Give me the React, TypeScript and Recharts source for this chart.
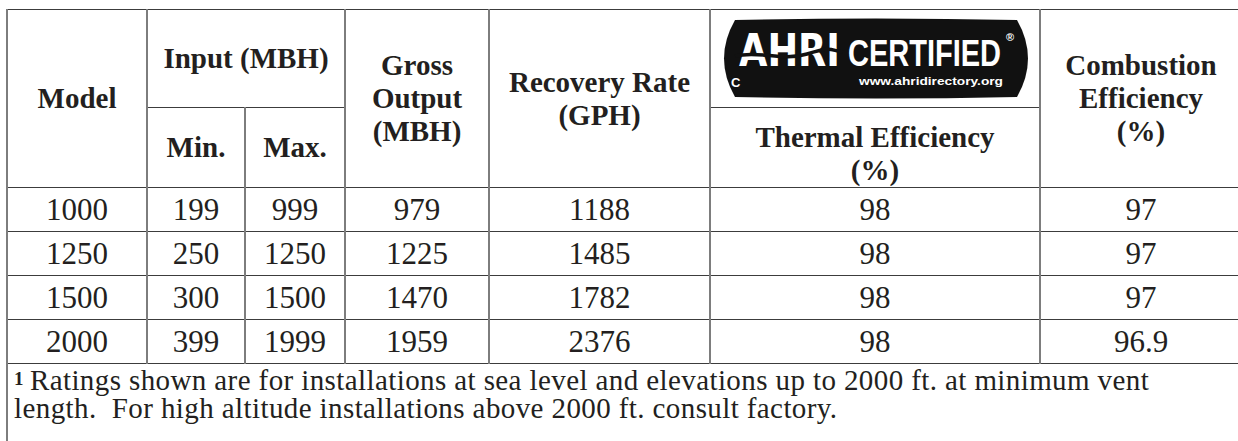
import React from 'react';
import { Surface } from 'recharts';

// table values
const models = ['1000', '1250', '1500', '2000'];
const inputMin = [199, 250, 300, 399];
const inputMax = [999, 1250, 1500, 1999];
const grossOutput = [979, 1225, 1470, 1959];
const recoveryRate = [1188, 1485, 1782, 2376];
const thermalEff = ['98', '98', '98', '98'];
const combustionEff = ['97', '97', '97', '96.9'];

const footnoteLines = [
  'Ratings shown are for installations at sea level and elevations up to 2000 ft. at minimum vent',
  'length.\u00a0 For high altitude installations above 2000 ft. consult factory.',
];

const colWidths = [140, 98, 100, 144, 221, 330, 202];

const VLINE = '2px solid #7d7d7d';
const HLINE = '1.5px solid #3c3c3c';
const INK = '#231f20';

const head: React.CSSProperties = {
  borderLeft: VLINE,
  borderRight: VLINE,
  borderTop: HLINE,
  borderBottom: HLINE,
  fontFamily: '"Liberation Serif", serif',
  fontWeight: 700,
  fontSize: 29,
  lineHeight: '33px',
  textAlign: 'center',
  verticalAlign: 'middle',
  color: INK,
  padding: 0,
};

const cell: React.CSSProperties = {
  ...head,
  fontWeight: 400,
  fontSize: 31,
  lineHeight: '31px',
};

const AhriLogo = () => {
  const w = 330;
  const h = 97;
  const x0 = 8, x1 = 322, y0 = 10, y1 = 87;
  const mid = (y0 + y1) / 2;
  const shape = `M${x0 + 16},${y0} Q${w / 2},${y0 - 3} ${x1 - 16},${y0} Q${x1 + 6},${mid} ${x1 - 16},${y1} Q${w / 2},${y1 + 3} ${x0 + 16},${y1} Q${x0 - 6},${mid} ${x0 + 16},${y0} Z`;
  return (
    <Surface width={w} height={h} viewBox={{ x: 0, y: 0, width: w, height: h }} style={{ display: 'block' }}>
      <path d={shape} fill="#111" />
      <text
        x={28}
        y={56}
        fill="#fff"
        fontFamily='"DejaVu Sans", sans-serif'
        fontWeight={700}
        fontSize={44}
        textLength={101}
        lengthAdjust="spacingAndGlyphs"
      >
        AHRI
      </text>
      <path d="M24,46 C50,40 70,52 96,44 S118,40 132,42" stroke="#111" strokeWidth={3.5} fill="none" />
      <text
        x={137}
        y={56}
        fill="#fff"
        fontFamily='"Liberation Sans", sans-serif'
        fontSize={36}
        textLength={153}
        lengthAdjust="spacingAndGlyphs"
      >
        CERTIFIED
      </text>
      <text x={295} y={31} fill="#fff" fontFamily='"Liberation Sans", sans-serif' fontSize={11}>
        ®
      </text>
      <text x={20} y={77} fill="#fff" fontFamily='"Liberation Sans", sans-serif' fontSize={13}>
        C
      </text>
      <text
        x={148}
        y={75}
        fill="#fff"
        fontFamily='"Liberation Sans", sans-serif'
        fontSize={11.5}
        textLength={144}
        lengthAdjust="spacingAndGlyphs"
      >
        www.ahridirectory.org
      </text>
    </Surface>
  );
};

export default function App() {
  return (
    <div
      style={{
        position: 'absolute',
        left: 0,
        top: 0,
        width: 1238,
        height: 441,
        overflow: 'hidden',
        background: '#fff',
      }}
    >
      <table
        style={{
          position: 'absolute',
          left: 6,
          top: 9,
          borderCollapse: 'collapse',
          tableLayout: 'fixed',
          width: colWidths.reduce((a, b) => a + b, 0),
        }}
      >
        <colgroup>
          {colWidths.map((w, i) => (
            <col key={i} style={{ width: w }} />
          ))}
        </colgroup>
        <tbody>
          <tr style={{ height: 97 }}>
            <td rowSpan={2} style={head}>Model</td>
            <td colSpan={2} style={head}>Input (MBH)</td>
            <td rowSpan={2} style={head}>Gross<br />Output<br />(MBH)</td>
            <td rowSpan={2} style={head}>Recovery Rate<br />(GPH)</td>
            <td style={{ ...head, verticalAlign: 'top' }}>
              <AhriLogo />
            </td>
            <td rowSpan={2} style={head}>Combustion<br />Efficiency<br />(%)</td>
          </tr>
          <tr style={{ height: 80 }}>
            <td style={head}>Min.</td>
            <td style={head}>Max.</td>
            <td style={{ ...head, verticalAlign: 'bottom' }}>Thermal Efficiency<br />(%)</td>
          </tr>
          {models.map((m, i) => (
            <tr key={m} style={{ height: 44 }}>
              <td style={cell}>{m}</td>
              <td style={cell}>{inputMin[i]}</td>
              <td style={cell}>{inputMax[i]}</td>
              <td style={cell}>{grossOutput[i]}</td>
              <td style={cell}>{recoveryRate[i]}</td>
              <td style={cell}>{thermalEff[i]}</td>
              <td style={cell}>{combustionEff[i]}</td>
            </tr>
          ))}
          <tr style={{ height: 90 }}>
            <td
              colSpan={7}
              style={{
                ...cell,
                borderBottom: 'none',
                textAlign: 'left',
                verticalAlign: 'top',
                fontSize: 29,
                lineHeight: '28px',
                letterSpacing: 0.4,
                whiteSpace: 'nowrap',
                padding: '1px 0 0 6px',
              }}
            >
              <span style={{ fontSize: 19, fontWeight: 700, verticalAlign: 5, marginRight: 6 }}>1</span>
              {footnoteLines[0]}
              <br />
              {footnoteLines[1]}
            </td>
          </tr>
        </tbody>
      </table>
    </div>
  );
}
